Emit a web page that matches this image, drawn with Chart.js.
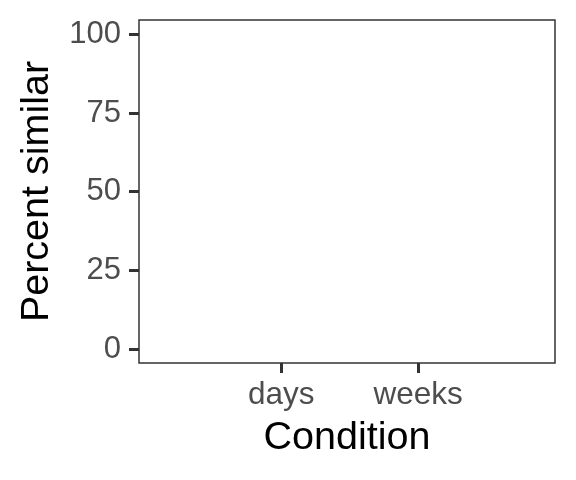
<!DOCTYPE html>
<html>
<head>
<meta charset="utf-8">
<script src="https://cdn.jsdelivr.net/npm/chart.js@4"></script>
<style>
  html, body { margin: 0; padding: 0; background: #ffffff; }
  #wrap { width: 576px; height: 480px; }
</style>
</head>
<body>
<div id="wrap"><canvas id="chart" width="576" height="480"></canvas></div>
<script>
// Categories on the x axis and the (empty) series of the plot
const categories = ['days', 'weeks'];
const similarValues = [];
const yTicks = [0, 25, 50, 75, 100];

const FONT = "'Liberation Sans', Arial, sans-serif";

// Draws the panel border round the plot area, like the ggplot box
const panelBox = {
    id: 'panelBox',
    afterDraw(chart) {
        const a = chart.chartArea;
        const ctx = chart.ctx;
        ctx.save();
        ctx.strokeStyle = '#333333';
        ctx.lineWidth = 1.5;
        ctx.strokeRect(a.left, a.top, a.right - a.left, a.bottom - a.top);
        ctx.restore();
    }
};

const ctx = document.getElementById('chart');

new Chart(ctx, {
    type: 'scatter',
    data: {
        datasets: [{
            label: 'Percent similar',
            data: similarValues,
            backgroundColor: '#1f77b4'
        }]
    },
    options: {
        responsive: false,
        animation: false,
        devicePixelRatio: 1,
        layout: { padding: { top: 20, right: 21, left: 0, bottom: 0 } },
        plugins: {
            legend: { display: false },
            tooltip: { enabled: false }
        },
        scales: {
            x: {
                type: 'linear',
                min: -1.04,
                max: 2.0,
                afterBuildTicks: function(scale) {
                    scale.ticks = categories.map((c, i) => ({ value: i }));
                },
                afterFit: function(scale) {
                    scale.height = 117;
                    scale.paddingLeft = 0;
                    scale.paddingRight = 0;
                },
                ticks: {
                    callback: function(value) { return categories[value]; },
                    color: '#4D4D4D',
                    font: { family: FONT, size: 31.5 },
                    padding: 3,
                    maxRotation: 0
                },
                grid: {
                    drawOnChartArea: false,
                    drawTicks: true,
                    tickLength: 10,
                    tickWidth: 3,
                    tickColor: '#333333'
                },
                border: { display: false },
                title: {
                    display: true,
                    text: 'Condition',
                    color: '#000000',
                    font: { family: FONT, size: 39.5 },
                    padding: { top: 0, bottom: 18 }
                }
            },
            y: {
                min: -4.4,
                max: 104.6,
                afterBuildTicks: function(scale) {
                    scale.ticks = yTicks.map(v => ({ value: v }));
                },
                afterFit: function(scale) {
                    scale.width = 139;
                    scale.paddingTop = 0;
                    scale.paddingBottom = 0;
                },
                ticks: {
                    color: '#4D4D4D',
                    font: { family: FONT, size: 31 },
                    padding: 8
                },
                grid: {
                    drawOnChartArea: false,
                    drawTicks: true,
                    tickLength: 10,
                    tickWidth: 3,
                    tickColor: '#333333'
                },
                border: { display: false },
                title: {
                    display: true,
                    text: 'Percent similar',
                    color: '#000000',
                    font: { family: FONT, size: 39.5 },
                    padding: { top: 13, bottom: 0 }
                }
            }
        }
    },
    plugins: [panelBox]
});
</script>
</body>
</html>
